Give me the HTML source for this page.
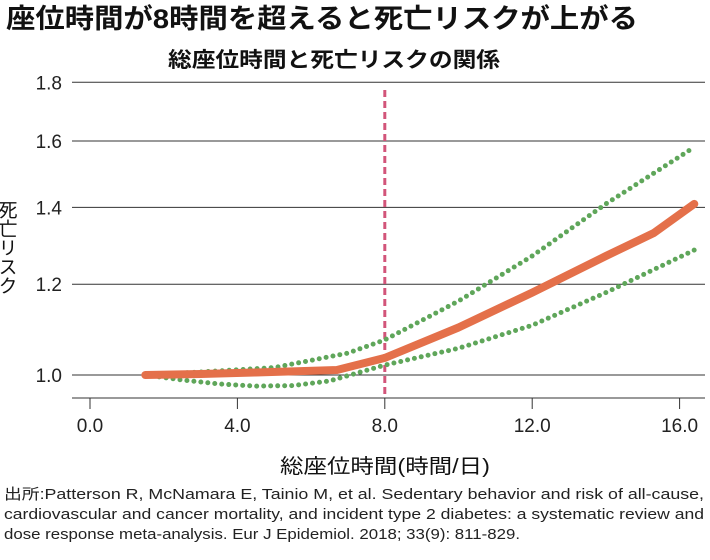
<!DOCTYPE html>
<html><head><meta charset="utf-8"><style>
body{margin:0;background:#fff;width:710px;height:560px;overflow:hidden;font-family:"Liberation Sans","Noto Sans CJK JP",sans-serif}
</style></head><body>
<svg width="710" height="560" style="position:absolute;left:0;top:0">
<text x="6" y="28" font-size="27" font-weight="bold" fill="#111" textLength="632" lengthAdjust="spacingAndGlyphs" font-family="Liberation Sans, Noto Sans CJK JP, sans-serif">座位時間が8時間を超えると死亡リスクが上がる</text>
<text x="168" y="67" font-size="21" font-weight="bold" fill="#111" textLength="332" lengthAdjust="spacingAndGlyphs" font-family="Liberation Sans, Noto Sans CJK JP, sans-serif">総座位時間と死亡リスクの関係</text>
<g id="grid"></g>
<g id="marks"></g>
<text x="0" y="0" font-size="19" fill="#111" transform="translate(6,200)" font-family="Liberation Sans, Noto Sans CJK JP, sans-serif" style="writing-mode:vertical-rl">死亡リスク</text>
<text x="280" y="473" font-size="20" fill="#111" textLength="210" lengthAdjust="spacingAndGlyphs" font-family="Liberation Sans, Noto Sans CJK JP, sans-serif">総座位時間(時間/日)</text>
<g font-size="15" fill="#222" font-family="Liberation Sans, Noto Sans CJK JP, sans-serif">
<text x="4" y="499" textLength="700" lengthAdjust="spacingAndGlyphs">出所:Patterson R, McNamara E, Tainio M, et al. Sedentary behavior and risk of all-cause,</text>
<text x="4" y="519" textLength="700" lengthAdjust="spacingAndGlyphs">cardiovascular and cancer mortality, and incident type 2 diabetes: a systematic review and</text>
<text x="4" y="539" textLength="516" lengthAdjust="spacingAndGlyphs">dose response meta-analysis. Eur J Epidemiol. 2018; 33(9): 811-829.</text>
</g>
</svg>
<script>
const yTicks=[1.0,1.2,1.4,1.6,1.8];
const xTicks=[0,4,8,12,16];
const hours=[1.5,3,4.5,6.7,8,10,12,14,15.3,16.4];
const rr=[1.0,1.002,1.005,1.01,1.035,1.10,1.18,1.27,1.33,1.41];
const upperHours=[1.5,3,5,7,8,10,12,14,16.4];
const upper=[1.0,1.006,1.015,1.045,1.073,1.16,1.27,1.41,1.58];
const lowerHours=[1.5,2.5,3.5,4.5,5.5,6.5,8,10,12,14,16.4];
const lower=[1.0,0.99,0.982,0.978,0.979,0.988,1.02,1.055,1.105,1.18,1.285];
const refLine=8;
const xs=v=>90+v*36.85;
const ys=v=>375-498*Math.log(v);
const NS='http://www.w3.org/2000/svg';
const grid=document.getElementById('grid'),marks=document.getElementById('marks');
function mk(p,tag,a){const e=document.createElementNS(NS,tag);for(const k in a)e.setAttribute(k,a[k]);p.appendChild(e);return e;}
yTicks.forEach(t=>{
const l=mk(grid,'line',{x1:72,x2:705,y1:ys(t),y2:ys(t),stroke:'#333','stroke-width':1});


const tx=mk(grid,'text',{x:62,y:ys(t)+7,'text-anchor':'end','font-size':19,fill:'#222'});
tx.textContent=t.toFixed(1);


});
const ax=mk(grid,'line',{x1:72,x2:705,y1:398,y2:398,stroke:'#333','stroke-width':1});


xTicks.forEach(t=>{
const l=mk(grid,'line',{x1:xs(t),x2:xs(t),y1:398,y2:409,stroke:'#333'});


const tx=mk(grid,'text',{x:xs(t),y:432,'text-anchor':'middle','font-size':19,fill:'#222'});
tx.textContent=t.toFixed(1);


});
const ref=mk(marks,'line',{x1:xs(refLine),x2:xs(refLine),y1:90,y2:398,stroke:'#d2557a','stroke-width':3,'stroke-dasharray':'7,4'});


function pts(xa,ya){return xa.map((x,i)=>xs(x).toFixed(1)+','+ys(ya[i]).toFixed(1)).join(' ');}
const up=mk(marks,'polyline',{points:pts(upperHours,upper),fill:'none',stroke:'#5fa65a','stroke-width':5,'stroke-linecap':'round','stroke-linejoin':'round','stroke-dasharray':'0,7'});


const lo=mk(marks,'polyline',{points:pts(lowerHours,lower),fill:'none',stroke:'#5fa65a','stroke-width':5,'stroke-linecap':'round','stroke-linejoin':'round','stroke-dasharray':'0,7'});


const m=mk(marks,'polyline',{points:pts(hours,rr),fill:'none',stroke:'#e4704a','stroke-width':8,'stroke-linejoin':'round','stroke-linecap':'round'});


</script>
</body></html>
